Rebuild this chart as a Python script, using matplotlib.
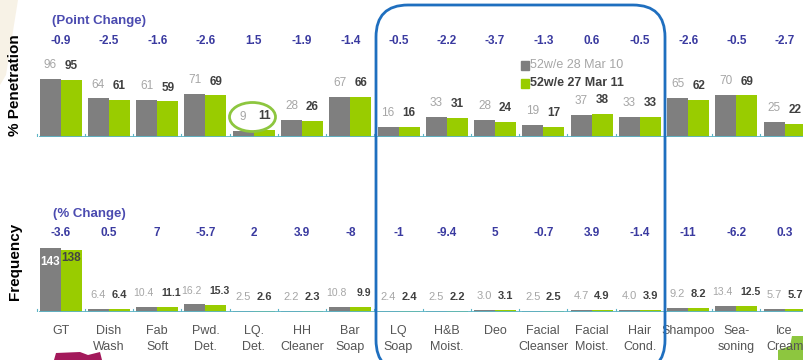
import numpy as np
import matplotlib
matplotlib.use("Agg")
import matplotlib.pyplot as plt
import matplotlib.patches as mpatches

plt.rcParams["font.family"] = ["Liberation Sans", "DejaVu Sans"]

categories = ["GT", "Dish\nWash", "Fab\nSoft", "Pwd.\nDet.", "LQ.\nDet.", "HH\nCleaner",
              "Bar\nSoap", "LQ\nSoap", "H&B\nMoist.", "Deo", "Facial\nCleanser",
              "Facial\nMoist.", "Hair\nCond.", "Shampoo", "Sea-\nsoning", "Ice\nCream"]
pen_2010 = [96, 64, 61, 71, 9, 28, 67, 16, 33, 28, 19, 37, 33, 65, 70, 25]
pen_2011 = [95, 61, 59, 69, 11, 26, 66, 16, 31, 24, 17, 38, 33, 62, 69, 22]
point_change = ["-0.9", "-2.5", "-1.6", "-2.6", "1.5", "-1.9", "-1.4", "-0.5",
                "-2.2", "-3.7", "-1.3", "0.6", "-0.5", "-2.6", "-0.5", "-2.7"]
freq_2010 = [143, 6.4, 10.4, 16.2, 2.5, 2.2, 10.8, 2.4, 2.5, 3.0, 2.5, 4.7, 4.0, 9.2, 13.4, 5.7]
freq_2011 = [138, 6.4, 11.1, 15.3, 2.6, 2.3, 9.9, 2.4, 2.2, 3.1, 2.5, 4.9, 3.9, 8.2, 12.5, 5.7]
pct_change = ["-3.6", "0.5", "7", "-5.7", "2", "3.9", "-8", "-1",
              "-9.4", "5", "-0.7", "3.9", "-1.4", "-11", "-6.2", "0.3"]
legend_labels = ["52w/e 28 Mar 10", "52w/e 27 Mar 11"]

GRAY = "#7f7f7f"
GREEN = "#99cc00"
NAVY = "#3a3aa0"
BASE = "#5db5c6"

W, H = 804, 360
fig = plt.figure(figsize=(W / 100, H / 100), dpi=100)

x = np.arange(len(categories))
bw = 0.435
px_per_unit = 48.26
x0 = 60.7
xlim = (-x0 / px_per_unit, (W - x0) / px_per_unit)


def make_axes(base_px, top_px, scale):
    ax = fig.add_axes([0, (H - base_px) / H, 1, (base_px - top_px) / H])
    ax.set_xlim(*xlim)
    ax.set_ylim(0, (base_px - top_px) / scale)
    ax.axis("off")
    ax.hlines(0, -0.45, 15.9, color=BASE, lw=1.3, zorder=3)
    for b in np.arange(-0.5, 16, 1.0):
        ax.plot([b, b], [0, 3 / scale], color=BASE, lw=0.8, zorder=3)
    return ax


ax1 = make_axes(136.7, 0, 0.598)
ax2 = make_axes(311.7, 190, 0.448)

for ax, a, b, fmt in [(ax1, pen_2010, pen_2011, "{:g}"), (ax2, freq_2010, freq_2011, "{:.1f}")]:
    ax.bar(x - bw / 2, a, bw, color=GRAY, zorder=2)
    ax.bar(x + bw / 2, b, bw, color=GREEN, zorder=2)
    for i in range(len(x)):
        sa = fmt.format(a[i]) if a[i] < 100 else str(int(a[i]))
        sb = fmt.format(b[i]) if b[i] < 100 else str(int(b[i]))
        if a[i] > 100:
            ax.annotate(sa, (x[i] - bw / 2, a[i]), xytext=(0, -10), textcoords="offset points",
                        ha="center", va="center", fontsize=8.5, color="white", fontweight="bold")
            ax.annotate(sb, (x[i] + bw / 2, b[i]), xytext=(0, -6), textcoords="offset points",
                        ha="center", va="center", fontsize=8.5, color="#444444", fontweight="bold")
            continue
        fs = 8.5 if ax is ax1 else 8
        wide = len(sa) > 3 or len(sb) > 3
        dx = 0 if (ax is ax1 or not wide) else -2.5
        ax.annotate(sa, (x[i] - bw / 2, a[i]), xytext=(dx, 10), textcoords="offset points",
                    ha="center", va="center", fontsize=fs if not wide else 7.5, color="#a6a6a6")
        ax.annotate(sb, (x[i] + bw / 2, b[i]), xytext=(-dx, 10), textcoords="offset points",
                    ha="center", va="center", fontsize=fs if not wide else 7.5, color="#404040",
                    fontweight="bold")

# change rows and category names
for i in range(len(x)):
    fig.text((x0 + x[i] * px_per_unit) / W, (H - 41.5) / H, point_change[i], ha="center",
             va="center", fontsize=8.5, color=NAVY, fontweight="bold")
    fig.text((x0 + x[i] * px_per_unit) / W, (H - 232.5) / H, pct_change[i], ha="center",
             va="center", fontsize=8.5, color=NAVY, fontweight="bold")
    for k, line in enumerate(categories[i].split("\n")):
        fig.text((x0 + x[i] * px_per_unit) / W, (H - 331 - k * 16) / H, line, ha="center",
                 va="center", fontsize=9, color="#555555")

fig.text(52 / W, (H - 21) / H, "(Point Change)", ha="left", va="center", fontsize=9.5,
         color="#4b4bb0", fontweight="bold")
fig.text(53 / W, (H - 214) / H, "(% Change)", ha="left", va="center", fontsize=9.5,
         color="#4b4bb0", fontweight="bold")
fig.text(15 / W, (H - 85) / H, "% Penetration", rotation=90, ha="center", va="center",
         fontsize=11, fontweight="bold", color="black")
fig.text(15 / W, (H - 261) / H, "Frequency", rotation=90, ha="center", va="center",
         fontsize=11, fontweight="bold", color="black")

# legend
for k, (lab, col, tcol) in enumerate(zip(legend_labels, [GRAY, GREEN], ["#a6a6a6", "#404040"])):
    yy = 65.5 + k * 18
    fig.add_artist(mpatches.Rectangle((521 / W, (H - yy - 4.5) / H), 8 / W, 9 / H,
                                      color=col, transform=fig.transFigure))
    fig.text(530 / W, (H - yy) / H, lab, ha="left", va="center", fontsize=9, color=tcol,
             fontweight="normal" if k == 0 else "bold")

# highlight shapes
fig.add_artist(mpatches.FancyBboxPatch((3.76, -0.12), 2.89, 3.67,
                                       boxstyle="round,pad=0,rounding_size=0.32",
                                       fill=False, ec="#1f6fbf", lw=2,
                                       transform=fig.dpi_scale_trans, zorder=5))
fig.add_artist(mpatches.Ellipse((2.525, (H - 117) / 100), 0.46, 0.29, fill=False,
                                ec="#8dc63f", lw=2, transform=fig.dpi_scale_trans, zorder=5))

# slide decorations
fig.add_artist(mpatches.Polygon([(0, 1.0), (18 / W, 1.0), (6 / W, (H - 75) / H), (0, (H - 85) / H)],
                                closed=True, color="#f3ead6", alpha=0.6, lw=0,
                                transform=fig.transFigure, zorder=0))
fig.add_artist(mpatches.Polygon([(54 / W, 0), (56 / W, 7 / H), (80 / W, 8 / H), (88 / W, 5 / H),
                                 (100 / W, 8 / H), (102 / W, 0)],
                                closed=True, color="#a3195b", lw=0, transform=fig.transFigure))
fig.add_artist(mpatches.Polygon([(778 / W, 0), (778 / W, 10 / H), (790 / W, 14 / H),
                                 (792 / W, 24 / H), (804 / W, 24 / H), (804 / W, 0)],
                                closed=True, color="#8dc63f", lw=0, transform=fig.transFigure))

fig.savefig("out.png", dpi=100)
